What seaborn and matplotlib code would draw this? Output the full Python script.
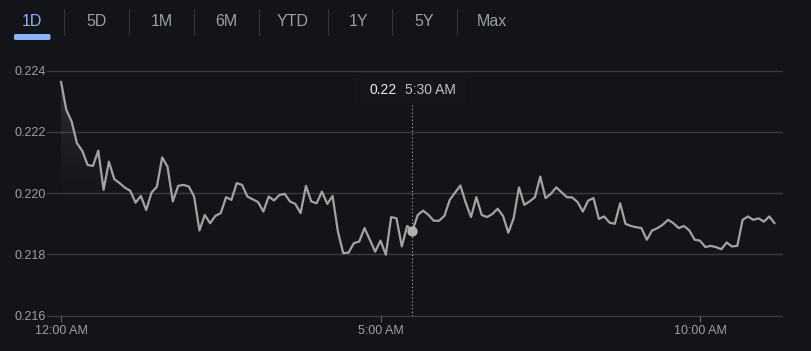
import numpy as np
import pandas as pd
import matplotlib
matplotlib.use("Agg")
import matplotlib.pyplot as plt
from matplotlib.patches import FancyBboxPatch
import seaborn as sns

# ---------------- data ----------------
tabs = ["1D", "5D", "1M", "6M", "YTD", "1Y", "5Y", "Max"]
step_minutes = 5
prices = [
    0.22364, 0.22272, 0.22234, 0.22163, 0.22138, 0.22092, 0.22089, 0.22139, 0.22011, 0.22103,
    0.22046, 0.22033, 0.22018, 0.22008, 0.21969, 0.21991, 0.21945, 0.22002, 0.22021, 0.22117,
    0.22087, 0.21973, 0.22024, 0.22027, 0.22022, 0.21989, 0.21878, 0.21929, 0.21902, 0.21926,
    0.21935, 0.21987, 0.21978, 0.22033, 0.22027, 0.21989, 0.21980, 0.21971, 0.21940, 0.21989,
    0.21976, 0.21994, 0.21998, 0.21973, 0.21965, 0.21935, 0.22024, 0.21973, 0.21967, 0.22005,
    0.21965, 0.21991, 0.21875, 0.21804, 0.21806, 0.21837, 0.21842, 0.21886, 0.21848, 0.21809,
    0.21845, 0.21799, 0.21922, 0.21918, 0.21826, 0.21893, 0.21878, 0.21929, 0.21943, 0.21929,
    0.21910, 0.21910, 0.21926, 0.21978, 0.22002, 0.22025, 0.21969, 0.21922, 0.21987, 0.21929,
    0.21922, 0.21932, 0.21949, 0.21926, 0.21871, 0.21918, 0.22019, 0.21962, 0.21973, 0.21987,
    0.22054, 0.21984, 0.21998, 0.22019, 0.22003, 0.21987, 0.21986, 0.21971, 0.21940, 0.21976,
    0.21984, 0.21916, 0.21924, 0.21904, 0.21900, 0.21967, 0.21900, 0.21893, 0.21889, 0.21886,
    0.21848, 0.21878, 0.21886, 0.21897, 0.21913, 0.21902, 0.21886, 0.21893, 0.21878, 0.21848,
    0.21845, 0.21824, 0.21828, 0.21824, 0.21817, 0.21839, 0.21826, 0.21828, 0.21913, 0.21924,
    0.21913, 0.21918, 0.21907, 0.21924, 0.21902,
]
y_ticks = [0.216, 0.218, 0.220, 0.222, 0.224]
y_tick_labels = ["0.216", "0.218", "0.220", "0.222", "0.224"]
x_ticks = [0, 5, 10]
x_tick_labels = ["12:00 AM", "5:00 AM", "10:00 AM"]
hover_index = 66
hover_value_label = "0.22"
hover_time_label = "5:30 AM"

hours = np.arange(len(prices)) * step_minutes / 60.0
df = pd.DataFrame({"hour": hours, "price": prices})

# ---------------- style ----------------
BG = "#131418"
GRID = "#3a3b40"
LINE = "#a3a3a3"
TXT = "#9aa0a6"
BLUE = "#8ab4f8"

sns.set_theme(style="dark")
plt.rcParams["font.family"] = ["Liberation Sans", "DejaVu Sans"]

W, H = 812, 351
fig = plt.figure(figsize=(W / 100, H / 100), dpi=100, facecolor=BG)

# axes placement (pixels)
x_left_px, x_right_px = 47, 782
y_bottom_px, y_top_px = 315.7, 67.6
ax = fig.add_axes([x_left_px / W, 1 - y_bottom_px / H,
                   (x_right_px - x_left_px) / W, (y_bottom_px - y_top_px) / H])
ax.set_facecolor(BG)
x0 = -0.219
x1 = 11.283
ax.set_xlim(x0, x1)
ax.set_ylim(0.216, 0.2241)

# gradient area under the line
poly = ax.fill_between(df["hour"], df["price"], 0.216, color="none", linewidth=0)
grad = np.zeros((300, 2, 4))
yy = np.linspace(0.2241, 0.216, 300)
alpha = np.clip((yy - 0.2191) / (0.2238 - 0.2191), 0, 1) ** 1.6 * 0.17
grad[:, :, 0] = 0.78
grad[:, :, 1] = 0.78
grad[:, :, 2] = 0.82
grad[:, :, 3] = alpha[:, None]
im = ax.imshow(grad, extent=[x0, x1, 0.216, 0.2241], aspect="auto", zorder=1,
               interpolation="bilinear")
path = poly.get_paths()[0]
im.set_clip_path(path, transform=ax.transData)

sns.lineplot(data=df, x="hour", y="price", ax=ax, color=LINE, linewidth=1.6, zorder=3)

# grid
for yv in y_ticks:
    ax.axhline(yv, color=GRID, linewidth=1.0, zorder=0, clip_on=False)
ax.grid(False)
for s in ax.spines.values():
    s.set_visible(False)

ax.set_yticks(y_ticks)
ax.set_yticklabels(y_tick_labels)
ax.set_xticks(x_ticks)
ax.set_xticklabels(x_tick_labels)
ax.set_xlabel("")
ax.set_ylabel("")
ax.tick_params(axis="y", length=0, pad=1, labelsize=9, labelcolor=TXT)
ax.tick_params(axis="x", length=4.5, width=0.8, color="#5f6368", direction="out",
               pad=2.5, labelsize=9, labelcolor=TXT, bottom=True)

# hover
hx = hours[hover_index]
hy = prices[hover_index]
ax.plot([hx, hx], [0.216, 0.22288], color="#9aa0a6", linewidth=0.8,
        linestyle=(0, (1.2, 2.0)), zorder=2)
ax.scatter([hx], [hy], s=55, color="#b0b0b0", zorder=4, linewidths=0)

# tooltip box + text (figure pixel coords)
def fx(px):
    return px / W

def fy(py):
    return 1 - py / H

box = FancyBboxPatch((fx(354), fy(104)), fx(467) - fx(354), fy(74) - fy(104),
                     boxstyle="round,pad=0,rounding_size=0.006", transform=fig.transFigure,
                     facecolor="#151619", edgecolor="none", zorder=0)
fig.patches.append(box)
fig.text(fx(369.5), fy(89.5), hover_value_label, color="#e8eaed", fontsize=10,
         ha="left", va="center")
fig.text(fx(405), fy(89.5), hover_time_label, color="#bdc1c6", fontsize=10,
         ha="left", va="center")

# tabs
tab_centers = [32, 96.5, 161.5, 226, 292.5, 359, 424.5, 492]
sep_x = [64.3, 129.3, 194, 259, 327.7, 392.3, 457.3]
for i, (t, cx) in enumerate(zip(tabs, tab_centers)):
    fig.text(fx(cx), fy(21.5), t, color=BLUE if i == 0 else TXT, fontsize=11.5,
             ha="center", va="center")
for sx in sep_x:
    fig.add_artist(plt.Line2D([fx(sx), fx(sx)], [fy(9), fy(35)], color="#34363b",
                              linewidth=0.8, transform=fig.transFigure))
underline = FancyBboxPatch((fx(14), fy(40)), fx(50.5) - fx(14), fy(34) - fy(40),
                           boxstyle="round,pad=0,rounding_size=0.003",
                           transform=fig.transFigure, facecolor=BLUE, edgecolor="none")
fig.patches.append(underline)

fig.savefig("out.png", dpi=100, facecolor=BG)
